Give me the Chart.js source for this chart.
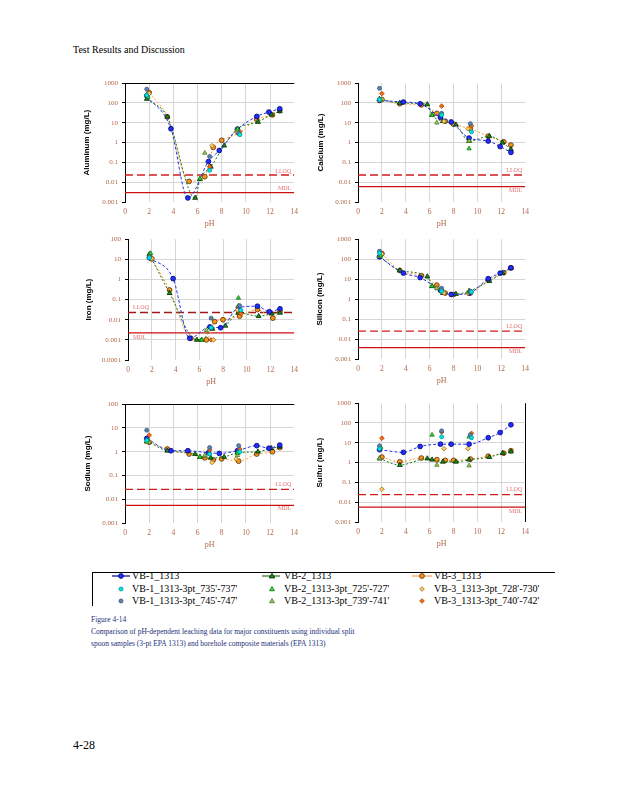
<!DOCTYPE html>
<html>
<head>
<meta charset="utf-8">
<script src="https://cdn.jsdelivr.net/npm/chart.js@4.4.1/dist/chart.umd.min.js"></script>
<style>
  body { margin: 0; background: #fff; }
  #page { position: relative; width: 618px; height: 800px; overflow: hidden; font-family: "Liberation Serif", "Times New Roman", serif; color: #000; }
  .abs { position: absolute; white-space: nowrap; }
  canvas.panel { position: absolute; }
  .cap { color: #1c2f7a; font-size: 7.5px; line-height: 9px; }
</style>
</head>
<body>
<div id="page">
  <div class="abs" style="left:73px;top:44px;font-size:10px;">Test Results and Discussion</div>

  <div class="abs" style="left:92px;top:572px;width:462px;height:33px;border-top:1px solid #000;border-left:1px solid #000;"></div>
  <div id="legend"></div>

  <div class="abs cap" style="left:91px;top:615px;">Figure 4-14</div>
  <div class="abs cap" style="left:91px;top:627px;">Comparison of pH-dependent leaching data for major constituents using individual split</div>
  <div class="abs cap" style="left:91px;top:639px;">spoon samples (3-pt EPA 1313) and borehole composite materials (EPA 1313)</div>

  <div class="abs" style="left:73px;top:738px;font-size:12px;">4-28</div>
</div>

<script>
// -------------------
// pH of each extract
// -------------------
const VB1_PH = [1.8, 3.8, 5.2, 6.9, 7.8, 9.3, 10.9, 11.9, 12.8];
const VB2_PH = [1.8, 3.5, 5.8, 6.2, 7.1, 8.2, 9.3, 11.0, 12.1, 12.8];
const VB3_PH = [2.0, 3.5, 5.3, 6.6, 7.3, 8.0, 9.4, 10.9, 12.2, 12.8];
const P735_PH = [1.8, 7.0, 9.5];
const P745_PH = [1.8, 7.0, 9.4];
const P725_PH = [1.9, 6.2, 9.3];
const P739_PH = [1.8, 6.6, 9.3];
const P728_PH = [2.0, 7.2, 9.2];
const P740_PH = [2.0, 7.0, 9.5];

// axis ticks
const X_TICKS = [0, 2, 4, 6, 8, 10, 12, 14];
const Y_TICKS_3 = [0.001, 0.01, 0.1, 1, 10, 100, 1000];
const Y_TICKS_FE = [0.0001, 0.001, 0.01, 0.1, 1, 10, 100];
const Y_TICKS_NA = [0.001, 0.01, 0.1, 1, 10, 100];

// -------------------
// Aluminum (mg/L)
// -------------------
const AL_VB1 = [230, 5, 0.0016, 0.11, 0.4, 4.7, 21, 35, 51];
const AL_VB2 = [160, 20, 0.0016, 0.014, 0.06, 0.7, 5, 11, 26, 38];
const AL_VB3 = [330, 20, 0.011, 0.019, 0.57, 1.3, 3, 15, 25, 42];
const AL_735 = [250, 0.04, 2.5];
const AL_745 = [500, 0.2, 3];
const AL_725 = [200, 0.015, 5];
const AL_739 = [250, 0.3, 4];
const AL_728 = [300, 0.7, 3.5];
const AL_740 = [350, 0.06, 3.5];
const AL_LLOQ = 0.023, AL_MDL = 0.003;

// Calcium
const CA_VB1 = [135, 112, 91, 19, 11, 1.7, 1.2, 0.63, 0.32];
const CA_VB2 = [160, 100, 85, 25, 12, 8, 1.2, 2.1, 1.0, 0.46];
const CA_VB3 = [150, 91, 80, 30, 12, 8.5, 5, 2.1, 1.1, 0.75];
const CA_735 = [150, 25, 3.5];
const CA_745 = [550, 30, 9];
const CA_725 = [150, 25, 0.5];
const CA_739 = [130, 10, 1.2];
const CA_728 = [150, 12, 5];
const CA_740 = [300, 70, 7];
const CA_LLOQ = 0.023, CA_MDL = 0.006;

// Iron
const FE_VB1 = [12, 1.1, 0.0012, 0.0044, 0.004, 0.04, 0.047, 0.025, 0.035];
const FE_VB2 = [18, 0.21, 0.001, 0.001, 0.0035, 0.005, 0.022, 0.015, 0.02, 0.022];
const FE_VB3 = [10.5, 0.3, 0.0012, 0.001, 0.008, 0.01, 0.015, 0.032, 0.012, 0.026];
const FE_735 = [12, 0.004, 0.03];
const FE_745 = [12, 0.012, 0.05];
const FE_725 = [20, 0.001, 0.12];
const FE_739 = [15, 0.003, 0.05];
const FE_728 = [11, 0.001, 0.03];
const FE_740 = [12, 0.001, 0.02];
const FE_LLOQ = 0.023, FE_MDL = 0.0022;

// Silicon
const SI_VB1 = [130, 20, 12, 2.8, 1.7, 2, 10.5, 20, 37];
const SI_VB2 = [140, 27, 13.5, 4.4, 2, 1.8, 2.5, 8, 20, 35];
const SI_VB3 = [190, 27, 15, 5, 2.0, 1.7, 2, 9, 21, 37];
const SI_735 = [200, 2.5, 2.3];
const SI_745 = [250, 3.5, 2.5];
const SI_725 = [150, 4.5, 2.5];
const SI_739 = [140, 3.5, 2.2];
const SI_728 = [180, 2, 2];
const SI_740 = [200, 3, 2.3];
const SI_LLOQ = 0.025, SI_MDL = 0.0037;

// Sodium
const NA_VB1 = [3.6, 1.1, 1.1, 0.9, 0.85, 1.1, 1.8, 1.4, 1.9];
const NA_VB2 = [2.8, 1.1, 0.8, 0.6, 0.55, 0.6, 0.9, 1.0, 1.4, 1.6];
const NA_VB3 = [2.5, 1.3, 0.8, 0.55, 0.45, 0.5, 0.4, 0.8, 1.0, 1.5];
const NA_735 = [3, 0.8, 1.0];
const NA_745 = [8, 1.5, 1.8];
const NA_725 = [3, 0.6, 0.9];
const NA_739 = [2.5, 0.7, 0.7];
const NA_728 = [2.7, 0.35, 0.5];
const NA_740 = [5, 1.2, 1.3];
const NA_LLOQ = 0.026, NA_MDL = 0.0055;

// Sulfur
const S_VB1 = [4.5, 3.3, 6.5, 8.5, 8.5, 8.5, 18, 33, 81];
const S_VB2 = [1.6, 0.75, 1.6, 1.4, 1.1, 1.1, 1.4, 1.9, 3.0, 3.6];
const S_VB3 = [1.9, 1.1, 1.7, 1.4, 1.3, 1.3, 1.5, 2.1, 3, 4];
const S_735 = [5, 20, 18];
const S_745 = [7, 40, 25];
const S_725 = [6, 25, 20];
const S_739 = [1.6, 0.75, 0.7];
const S_728 = [0.045, 5, 5];
const S_740 = [17, 35, 30];
const S_LLOQ = 0.024, S_MDL = 0.0057;

// -------------------
// SERIES STYLES (same order as the value lists)
// -------------------
const SERIES = [
  { label: "VB-1_1313", ph: VB1_PH, line: true, shape: "circle", fill: "#1f2fff", edge: "#000070", stroke: "#2233ee", legendStroke: "#00008b", dash: [3, 2], r: 2.4 },
  { label: "VB-2_1313", ph: VB2_PH, line: true, shape: "triangle", fill: "#1e8a1e", edge: "#002a00", stroke: "#137a13", legendStroke: "#2d6a2d", dash: [2, 2], r: 2.8 },
  { label: "VB-3_1313", ph: VB3_PH, line: true, shape: "circle", fill: "#f7941d", edge: "#5a2a00", stroke: "#ff9a33", legendStroke: "#f7a35c", dash: [2, 2], r: 2.4 },
  { label: "VB-1_1313-3pt_735'-737'", ph: P735_PH, shape: "circle", fill: "#00e6e6", edge: "#009090", r: 2 },
  { label: "VB-1_1313-3pt_745'-747'", ph: P745_PH, shape: "circle", fill: "#5b84b1", edge: "#34557a", r: 2 },
  { label: "VB-2_1313-3pt_725'-727'", ph: P725_PH, shape: "triangle", fill: "#33dd33", edge: "#117711", r: 2.5 },
  { label: "VB-2_1313-3pt_739'-741'", ph: P739_PH, shape: "triangle", fill: "#9acd55", edge: "#4a7a2a", r: 2.5 },
  { label: "VB-3_1313-3pt_728'-730'", ph: P728_PH, shape: "rectRot", fill: "#ffc966", edge: "#a0701c", r: 2.3 },
  { label: "VB-3_1313-3pt_740'-742'", ph: P740_PH, shape: "rectRot", fill: "#ff6a10", edge: "#a04000", r: 2.3 }
];

// -------------------
// PANELS (plot area in page pixels)
// -------------------
const PANELS = [
  { title: "Aluminum (mg/L)", vals: [AL_VB1, AL_VB2, AL_VB3, AL_735, AL_745, AL_725, AL_739, AL_728, AL_740], lloq: AL_LLOQ, mdl: AL_MDL,
    yTicks: Y_TICKS_3, L: 125, T: 81, R: 298, B: 202, titlePad: 7, topBlack: true, side: "right", lloqDy: -4, mdlDy: -4 },
  { title: "Calcium (mg/L)", vals: [CA_VB1, CA_VB2, CA_VB3, CA_735, CA_745, CA_725, CA_739, CA_728, CA_740], lloq: CA_LLOQ, mdl: CA_MDL,
    yTicks: Y_TICKS_3, L: 358, T: 81, R: 529, B: 202, titlePad: 8, side: "right", lloqDy: -5, mdlDy: 3.5 },
  { title: "Iron (mg/L)", vals: [FE_VB1, FE_VB2, FE_VB3, FE_735, FE_745, FE_725, FE_739, FE_728, FE_740], lloq: FE_LLOQ, mdl: FE_MDL,
    yTicks: Y_TICKS_FE, L: 128, T: 237, R: 298, B: 360, titlePad: 6, side: "left", lloqDy: -5, mdlDy: 4, lloqColor: "#a01818" },
  { title: "Silicon (mg/L)", vals: [SI_VB1, SI_VB2, SI_VB3, SI_735, SI_745, SI_725, SI_739, SI_728, SI_740], lloq: SI_LLOQ, mdl: SI_MDL,
    yTicks: Y_TICKS_3, L: 358, T: 237, R: 529, B: 359, titlePad: 7, side: "right", lloqDy: -4.5, mdlDy: 4 },
  { title: "Sodium (mg/L)", vals: [NA_VB1, NA_VB2, NA_VB3, NA_735, NA_745, NA_725, NA_739, NA_728, NA_740], lloq: NA_LLOQ, mdl: NA_MDL,
    yTicks: Y_TICKS_NA, L: 125, T: 402, R: 298, B: 523, titlePad: 8, topBlack: true, side: "right", lloqDy: -4.5, mdlDy: 3.5 },
  { title: "Sulfur (mg/L)", vals: [S_VB1, S_VB2, S_VB3, S_735, S_745, S_725, S_739, S_728, S_740], lloq: S_LLOQ, mdl: S_MDL,
    yTicks: Y_TICKS_3, L: 358, T: 401, R: 529, B: 522, titlePad: 7, rightBlack: true, side: "right", lloqDy: -5, mdlDy: 4 }
];

const AXIS_W = 50, AXIS_H = 30, PAD_T = 6, PAD_R = 6;
const TICK_COLOR = "#b0694a";
const GRID = "#d6d6d6";
const CLEAR = "rgba(0,0,0,0)";

// -------------------
// LLOQ / MDL labels
// -------------------
const limitLabels = {
  id: "limitLabels",
  afterDatasetsDraw(chart, args, o) {
    const { ctx, chartArea, scales } = chart;
    ctx.save();
    ctx.font = '6px "Liberation Serif"';
    ctx.fillStyle = "#e07474";
    ctx.textBaseline = "middle";
    const left = o.side === "left";
    ctx.textAlign = left ? "left" : "right";
    const tx = left ? chartArea.left + 5 : chartArea.right - 3;
    ctx.fillText("LLOQ", tx, scales.y.getPixelForValue(o.lloq) + o.lloqDy);
    ctx.fillText("MDL", tx, scales.y.getPixelForValue(o.mdl) + o.mdlDy);
    ctx.restore();
  }
};

const pts = (ph, vals) => ph.map((x, i) => ({ x, y: vals[i] })).filter(p => p.y != null);

function makePanel(p) {
  const page = document.getElementById("page");
  const cv = document.createElement("canvas");
  cv.className = "panel";
  const w = p.R - p.L + AXIS_W + PAD_R;
  const h = p.B - p.T + AXIS_H + PAD_T;
  cv.width = w; cv.height = h;
  cv.style.left = (p.L - AXIS_W) + "px";
  cv.style.top = (p.T - PAD_T) + "px";
  cv.style.width = w + "px"; cv.style.height = h + "px";
  page.appendChild(cv);

  const yMin = p.yTicks[0], yMax = p.yTicks[p.yTicks.length - 1];

  const datasets = SERIES.map((s, i) => ({
    label: s.label,
    data: pts(s.ph, p.vals[i]),
    showLine: !!s.line,
    borderColor: s.line ? s.stroke : s.edge,
    borderWidth: 1,
    borderDash: s.dash || [],
    cubicInterpolationMode: "monotone",
    pointStyle: s.shape,
    pointRadius: s.r,
    pointBackgroundColor: s.fill,
    pointBorderColor: s.edge,
    pointBorderWidth: 0.8,
    order: s.line ? 2 : 1
  }));
  datasets.push({
    label: "LLOQ", data: [{ x: 0, y: p.lloq }, { x: 14, y: p.lloq }],
    showLine: true, pointRadius: 0, borderColor: p.lloqColor || "#d21c1c", borderWidth: 1.4, borderDash: [8, 4], order: 5
  });
  datasets.push({
    label: "MDL", data: [{ x: 0, y: p.mdl }, { x: 14, y: p.mdl }],
    showLine: true, pointRadius: 0, borderColor: "#cc1010", borderWidth: 1.3, order: 5
  });

  new Chart(cv, {
    type: "scatter",
    data: { datasets },
    options: {
      responsive: false,
      animation: false,
      devicePixelRatio: window.devicePixelRatio || 1,
      layout: { padding: { top: PAD_T, right: PAD_R, left: 0, bottom: 0 } },
      plugins: {
        legend: { display: false },
        tooltip: { enabled: false },
        limitLabels: { side: p.side, lloq: p.lloq, mdl: p.mdl, lloqDy: p.lloqDy, mdlDy: p.mdlDy }
      },
      scales: {
        x: {
          type: "linear", min: 0, max: 14,
          afterBuildTicks: a => { a.ticks = X_TICKS.map(v => ({ value: v })); },
          afterFit: a => { a.height = AXIS_H; },
          ticks: { color: TICK_COLOR, font: { family: "Liberation Serif", size: 7.5 }, padding: 6, maxRotation: 0 },
          grid: {
            drawTicks: false,
            color: c => {
              const v = c.tick ? c.tick.value : null;
              if (v === 0) return CLEAR;
              if (v === 14) return p.rightBlack ? "#000" : CLEAR;
              return GRID;
            }
          },
          border: { display: false },
          title: { display: true, text: "pH", color: TICK_COLOR, font: { family: "Liberation Serif", size: 8 }, padding: { top: 0, bottom: 3 } }
        },
        y: {
          type: "logarithmic", min: yMin, max: yMax,
          afterBuildTicks: a => { a.ticks = p.yTicks.map(v => ({ value: v })); },
          afterFit: a => { a.width = AXIS_W; },
          ticks: { color: TICK_COLOR, font: { family: "Liberation Serif", size: 7 }, padding: 4, callback: v => String(v) },
          grid: {
            tickLength: 3,
            tickColor: "#000",
            color: c => {
              const v = c.tick ? c.tick.value : null;
              if (v === yMax) return p.topBlack ? "#000" : CLEAR;
              if (v === yMin) return CLEAR;
              return GRID;
            }
          },
          border: { color: "#000", width: 1 },
          title: { display: true, text: p.title, color: "#000", font: { family: "Liberation Sans", size: 8, weight: "bold" }, padding: { top: p.titlePad, bottom: 0 } }
        }
      }
    },
    plugins: [limitLabels]
  });
}

PANELS.forEach(makePanel);

// -------------------
// LEGEND
// -------------------
const LEGEND_ROWS = [576, 588.5, 600.5];
const LEGEND_COLS = [
  { x1: 112, x2: 130, mx: 121, tx: 132 },
  { x1: 262, x2: 280, mx: 272, tx: 284 },
  { x1: 412, x2: 432, mx: 422, tx: 434 }
];
const LEGEND_ORDER = [[0, 3, 4], [1, 5, 6], [2, 7, 8]];

function markerSvg(s, withLine, col) {
  const r = s.r;
  const w = withLine ? col.x2 - col.x1 : 10;
  const cx = withLine ? col.mx - col.x1 : 5;
  let shape;
  if (s.shape === "circle") shape = `<circle cx="${cx}" cy="5" r="${r}" fill="${s.fill}" stroke="${s.edge}" stroke-width="0.8"/>`;
  else if (s.shape === "triangle") shape = `<polygon points="${cx},${5 - r} ${cx + r},${5 + r * 0.7} ${cx - r},${5 + r * 0.7}" fill="${s.fill}" stroke="${s.edge}" stroke-width="0.8"/>`;
  else shape = `<polygon points="${cx},${5 - r} ${cx + r},5 ${cx},${5 + r} ${cx - r},5" fill="${s.fill}" stroke="${s.edge}" stroke-width="0.8"/>`;
  const line = withLine ? `<line x1="0" y1="5" x2="${w}" y2="5" stroke="${s.legendStroke}" stroke-width="1.2"/>` : "";
  return `<svg width="${w}" height="10" style="display:block">${line}${shape}</svg>`;
}

const legendEl = document.getElementById("legend");
LEGEND_ORDER.forEach((idxs, c) => {
  const col = LEGEND_COLS[c];
  idxs.forEach((si, r) => {
    const s = SERIES[si];
    const y = LEGEND_ROWS[r];
    const withLine = r === 0;
    const m = document.createElement("div");
    m.className = "abs";
    m.style.left = (withLine ? col.x1 : col.mx - 5) + "px";
    m.style.top = (y - 5) + "px";
    m.innerHTML = markerSvg(s, withLine, col);
    legendEl.appendChild(m);
    const t = document.createElement("div");
    t.className = "abs";
    t.style.left = col.tx + "px";
    t.style.top = (y - 6) + "px";
    t.style.fontSize = "10px";
    t.style.lineHeight = "12px";
    t.textContent = s.label;
    legendEl.appendChild(t);
  });
});
</script>
</body>
</html>
